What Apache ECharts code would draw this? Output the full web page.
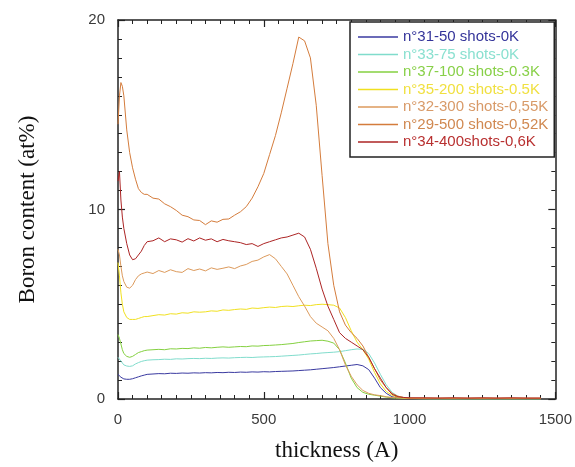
<!DOCTYPE html>
<html>
<head>
<meta charset="utf-8">
<script src="https://cdn.jsdelivr.net/npm/echarts@6/dist/echarts.min.js"></script>
<style>
html,body{margin:0;padding:0;background:#fff;}
#chart{width:575px;height:467px;}
</style>
</head>
<body>
<div id="chart"></div>
<script>
// thickness (A)
var thickness = [0,5,10,15,20,30,40,50,60,70,80,90,100,120,140,160,180,200,220,240,260,280,300,320,340,360,380,400,420,440,460,480,500,520,540,560,580,600,620,640,660,680,700,720,740,760,780,800,820,840,860,880,900,920,940,960,980,1000,1050,1100,1150,1200,1250,1300,1350,1400,1450];

var seriesNames = ["n°31-50 shots-0K","n°33-75 shots-0K","n°37-100 shots-0.3K","n°35-200 shots-0.5K","n°32-300 shots-0,55K","n°29-500 shots-0,52K","n°34-400shots-0,6K"];

var s31 = [1.3,1.25,1.15,1.1,1.06,1.04,1.04,1.07,1.12,1.17,1.22,1.26,1.3,1.32,1.34,1.33,1.36,1.35,1.37,1.36,1.38,1.37,1.39,1.38,1.4,1.39,1.41,1.4,1.42,1.41,1.43,1.42,1.44,1.43,1.45,1.46,1.47,1.48,1.5,1.52,1.54,1.57,1.6,1.63,1.66,1.7,1.74,1.78,1.82,1.75,1.55,1.1,0.6,0.3,0.12,0.06,0.03,0.02,0.01,0,0,0,0,0,0,0,0];
var s33 = [2.2,2.1,2.0,1.9,1.8,1.74,1.72,1.75,1.85,1.92,1.98,2.02,2.05,2.07,2.08,2.1,2.09,2.12,2.11,2.13,2.14,2.13,2.15,2.14,2.16,2.17,2.16,2.18,2.19,2.2,2.19,2.21,2.22,2.23,2.24,2.26,2.28,2.3,2.32,2.35,2.38,2.4,2.43,2.45,2.47,2.5,2.55,2.6,2.64,2.62,2.4,1.9,1.3,0.75,0.35,0.15,0.07,0.03,0.01,0,0,0,0,0,0,0,0];
var s37 = [3.4,3.2,2.9,2.6,2.4,2.25,2.2,2.25,2.35,2.45,2.5,2.55,2.58,2.6,2.62,2.6,2.65,2.64,2.67,2.66,2.7,2.68,2.72,2.7,2.73,2.75,2.73,2.75,2.77,2.76,2.8,2.79,2.82,2.83,2.85,2.87,2.9,2.93,2.98,3.02,3.06,3.08,3.1,3.05,2.95,2.6,1.9,1.1,0.6,0.35,0.25,0.2,0.15,0.1,0.06,0.04,0.03,0.02,0.01,0,0,0,0,0,0,0,0];
var s35 = [7.2,6.5,5.6,5.0,4.6,4.3,4.2,4.2,4.2,4.25,4.3,4.35,4.35,4.4,4.45,4.43,4.5,4.48,4.55,4.53,4.6,4.58,4.6,4.65,4.63,4.7,4.68,4.72,4.75,4.73,4.8,4.78,4.82,4.85,4.83,4.88,4.9,4.88,4.92,4.95,4.93,4.98,5.0,4.98,4.95,4.8,4.3,3.6,3.0,2.6,2.1,1.4,0.8,0.4,0.2,0.1,0.05,0.03,0.02,0.02,0.02,0.02,0.02,0.02,0.02,0.02,0.02];
var s32 = [7.9,7.6,7.0,6.5,6.2,5.9,5.85,6.0,6.3,6.5,6.6,6.65,6.7,6.62,6.78,6.68,6.82,6.72,6.68,6.88,6.78,6.86,6.76,6.92,6.84,6.9,6.97,6.88,7.02,7.1,7.26,7.33,7.5,7.62,7.4,7.0,6.6,6.0,5.4,4.9,4.35,4.0,3.8,3.6,3.2,2.6,1.8,1.2,0.75,0.45,0.3,0.22,0.18,0.12,0.08,0.06,0.05,0.05,0.04,0.04,0.04,0.04,0.04,0.04,0.04,0.04,0.04];
var s29 = [14.5,16.0,16.7,16.5,16.0,14.2,13.0,12.2,11.6,11.1,10.9,10.8,10.8,10.6,10.55,10.3,10.15,9.95,9.7,9.62,9.45,9.42,9.2,9.4,9.33,9.48,9.5,9.7,9.88,10.15,10.6,11.2,11.9,12.9,13.9,15.1,16.4,17.7,19.1,18.9,18.0,15.5,11.8,8.2,6.0,4.6,3.9,3.5,3.2,2.8,2.2,1.6,1.0,0.6,0.3,0.15,0.08,0.05,0.05,0.04,0.05,0.04,0.05,0.04,0.05,0.04,0.04];
var s34 = [11.5,12.0,10.5,9.6,9.0,8.2,7.6,7.35,7.4,7.6,7.8,8.1,8.3,8.35,8.5,8.3,8.45,8.4,8.28,8.46,8.34,8.5,8.38,8.45,8.3,8.42,8.35,8.3,8.25,8.15,8.2,8.05,8.2,8.3,8.4,8.5,8.55,8.65,8.75,8.55,7.9,6.9,5.8,4.9,4.2,3.5,3.2,3.0,2.8,2.6,2.2,1.6,1.1,0.6,0.25,0.12,0.08,0.06,0.06,0.05,0.06,0.05,0.06,0.05,0.06,0.05,0.05];

var xTicks = [0,500,1000,1500];
var yTicks = [0,10,20];

var values = [s31,s33,s37,s35,s32,s29,s34];
var lineColors = ['#3a3aa0','#80dccc','#84d040','#f0e020','#dc9a5c','#d47c3c','#ac2424'];
var textColors = ['#34349a','#8ae0d0','#88d048','#f0e040','#d89a68','#d08850','#b83030'];

function pairs(arr){ return thickness.map(function(t,i){ return [t, arr[i]]; }); }

var chart = echarts.init(document.getElementById('chart'), null, {renderer:'canvas'});
var series = values.map(function(v,i){
  return {
    name: seriesNames[i], type:'line', xAxisIndex:0, yAxisIndex:0,
    data: pairs(v), showSymbol:false, symbol:'none', animation:false,
    lineStyle:{color:lineColors[i], width:1}, itemStyle:{color:lineColors[i]}
  };
});

var tickStyle = {show:true, inside:true, length:7, lineStyle:{color:'#222', width:1.2}};
var minorStyle = {show:true, splitNumber:10, length:4, lineStyle:{color:'#222', width:1}};

var option = {
  backgroundColor:'#fff',
  animation:false,
  grid:{left:118, right:17, top:20, bottom:55, containLabel:false},
  legend:{
    orient:'vertical', left:350, top:22,
    padding:[7,6,7,8],
    borderColor:'#222', borderWidth:1.5, backgroundColor:'#fff',
    itemWidth:40, itemHeight:1.5, itemGap:1.5, icon:'rect',
    textStyle:{fontFamily:'Liberation Sans, Arial, sans-serif', fontSize:15, lineHeight:16},
    data: seriesNames.map(function(n,i){ return {name:n, textStyle:{color:textColors[i]}}; })
  },
  xAxis:[{
    type:'value', min:0, max:1500, interval:500, position:'bottom',
    name:'thickness (A)', nameLocation:'middle', nameGap:40,
    nameTextStyle:{fontFamily:'Liberation Serif, Times New Roman, serif', fontSize:23, color:'#111'},
    axisLine:{show:true, onZero:false, lineStyle:{color:'#222', width:1.5}},
    axisTick:tickStyle, minorTick:minorStyle,
    axisLabel:{fontFamily:'Liberation Sans, Arial, sans-serif', fontSize:15, color:'#3a3a3a', margin:13,
      formatter:function(v){ return xTicks.indexOf(v)>=0 ? String(v) : ''; }},
    splitLine:{show:false}
  },{
    type:'value', min:0, max:1500, interval:500, position:'top',
    axisLine:{show:true, onZero:false, lineStyle:{color:'#222', width:1.5}},
    axisTick:tickStyle, minorTick:minorStyle,
    axisLabel:{show:false}, splitLine:{show:false}
  }],
  yAxis:[{
    type:'value', min:0, max:20, interval:10, position:'left',
    name:'Boron content (at%)', nameLocation:'middle', nameGap:79,
    nameTextStyle:{fontFamily:'Liberation Serif, Times New Roman, serif', fontSize:23, color:'#111'},
    axisLine:{show:true, onZero:false, lineStyle:{color:'#222', width:1.5}},
    axisTick:tickStyle, minorTick:minorStyle,
    axisLabel:{fontFamily:'Liberation Sans, Arial, sans-serif', fontSize:15, color:'#3a3a3a', margin:13,
      formatter:function(v){ return yTicks.indexOf(v)>=0 ? String(v) : ''; }},
    splitLine:{show:false}
  },{
    type:'value', min:0, max:20, interval:10, position:'right',
    axisLine:{show:true, onZero:false, lineStyle:{color:'#222', width:1.5}},
    axisTick:tickStyle, minorTick:minorStyle,
    axisLabel:{show:false}, splitLine:{show:false}
  }],
  series: series
};
chart.setOption(option);
</script>
</body>
</html>
